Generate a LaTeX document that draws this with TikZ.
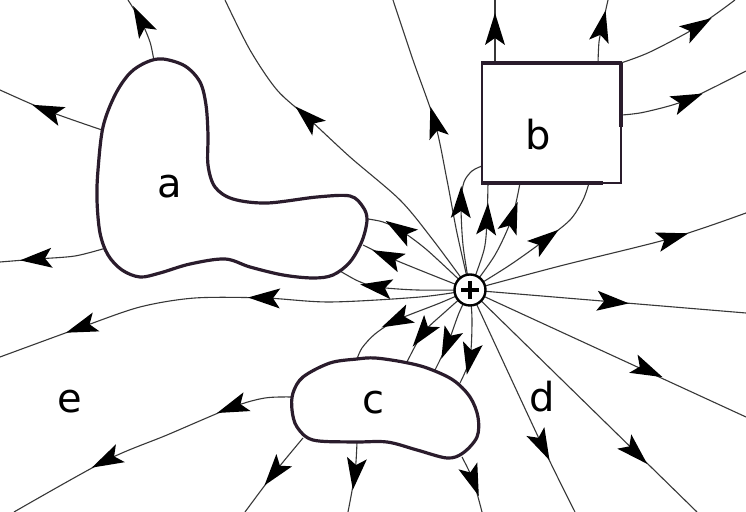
\documentclass[tikz,border=0pt]{standalone}
\usepackage{fontspec}
\setmainfont{DejaVu Sans}
\usetikzlibrary{calc}
\definecolor{cond}{RGB}{42,28,44}
\definecolor{fline}{RGB}{55,55,55}
\tikzset{
  fl/.style={draw=fline,line width=0.55pt},
  condline/.style={draw=cond,line width=1.6pt,fill=white},
  headfill/.style={fill=black},
  lbl/.style={font=\fontsize{20}{24}\selectfont,inner sep=0pt}
}
% arrowhead centred on #2, pointing along (#3)-(#1)
\newcommand\fa[3]{%
  \coordinate (fdA) at (#2);
  \coordinate (fdD) at ($(#2)+(#3)-(#1)$);
  \coordinate (fdT) at ($(fdA)!8.5pt!(fdD)$);
  \coordinate (fdB) at ($(fdA)!-7.5pt!(fdD)$);
  \coordinate (fdI) at ($(fdA)!-4pt!(fdD)$);
  \coordinate (fdC) at ($(fdB)!5pt!90:(fdT)$);
  \coordinate (fdE) at ($(fdB)!5pt!-90:(fdT)$);
  \fill[headfill] (fdT) -- (fdC) -- (fdI) -- (fdE) -- cycle;}
\begin{document}
\begin{tikzpicture}[x=0.5pt,y=-0.5pt]
\useasboundingbox (0,0) rectangle (746,512);
\fill[white] (0,0) rectangle (746,512);
\coordinate (qc) at (470,290);

% ---------- field lines from the charge ----------
% towards a
\draw[fl] plot[smooth] coordinates {(qc) (427,250) (400,230) (383,222) (368,219)};
\fa{427,250}{400,230}{383,222}
\draw[fl] plot[smooth] coordinates {(qc) (427,273) (388,257) (363,245)};
\fa{427,273}{388,257}{363,245}
\draw[fl] plot[smooth] coordinates {(qc) (417,290) (377,287) (358,281) (340,271)};
\fa{417,290}{377,287}{358,281}
% long line to the left
\draw[fl] plot[smooth] coordinates {(qc) (420,297) (330,302) (265,298) (195,298) (140,307) (82,327) (0,357)};
\fa{330,302}{265,298}{195,298}
\fa{140,307}{82,327}{0,357}
% upper left lines
\draw[fl] plot[smooth] coordinates {(qc) (433,240) (400,200) (350,157) (308,118) (277,90) (250,50) (225,0)};
\fa{350,157}{308,118}{277,90}
\draw[fl] plot[smooth] coordinates {(qc) (457,233) (447,180) (435,123) (413,60) (393,0)};
\fa{447,180}{435,123}{413,60}
% towards b
\draw[fl] plot[smooth] coordinates {(qc) (463,245) (461,203) (464,182) (472,171) (482,166)};
\fa{463,245}{461,203}{464,182}
\draw[fl] plot[smooth] coordinates {(qc) (484,250) (487,220) (488,183)};
\fa{484,250}{487,220}{488,183}
\draw[fl] plot[smooth] coordinates {(qc) (495,255) (512,218) (520,183)};
\fa{495,255}{512,218}{520,183}
\draw[fl] plot[smooth] coordinates {(qc) (510,265) (545,240) (570,220) (583,200) (589,183)};
\fa{510,265}{545,240}{570,220}
% to the right
\draw[fl] plot[smooth] coordinates {(qc) (560,266) (672,238) (746,213)};
\fa{560,266}{672,238}{746,213}
\draw[fl] (qc) -- (746,313);
\fa{470,290}{612,302}{746,313}
\draw[fl] (qc) -- (746,417);
\fa{470,290}{647,370}{746,417}
\draw[fl] (qc) -- (697,512);
\fa{470,290}{635,452}{697,512}
\draw[fl] plot[smooth] coordinates {(qc) (542,445) (575,512)};
\fa{500,360}{542,445}{575,512}
% towards c
\draw[fl] plot[smooth] coordinates {(qc) (440,303) (397,320) (375,334) (362,348) (357,359)};
\fa{440,303}{397,320}{375,334}
\draw[fl] plot[smooth] coordinates {(qc) (445,312) (423,333) (407,362)};
\fa{445,312}{423,333}{407,362}
\draw[fl] plot[smooth] coordinates {(qc) (459,313) (448,343) (435,370)};
\fa{459,313}{448,343}{435,370}
\draw[fl] plot[smooth] coordinates {(qc) (472,320) (470,358) (460,383)};
\fa{472,320}{470,358}{460,383}

% ---------- field lines leaving a ----------
\draw[fl] plot[smooth] coordinates {(154,61) (150,42) (141,21) (128,0)};
\fa{150,42}{141,21}{128,0}
\draw[fl] plot[smooth] coordinates {(102,130) (48,111) (0,90)};
\fa{102,130}{48,111}{0,90}
\draw[fl] plot[smooth] coordinates {(106,248) (75,256) (37,259) (0,262)};
\fa{75,256}{37,259}{0,262}

% ---------- field lines leaving b ----------
\draw[fl] (495,63) -- (495,0);
\fa{495,63}{495,30}{495,0}
\draw[fl] plot[smooth] coordinates {(598,63) (599,42) (602,27) (608,0)};
\fa{599,42}{602,27}{608,0}
\draw[fl] plot[smooth] coordinates {(621,63) (650,52) (697,27) (735,0)};
\fa{650,52}{697,27}{735,0}
\draw[fl] plot[smooth] coordinates {(622,115) (645,112) (687,100) (746,71)};
\fa{645,112}{687,100}{746,71}

% ---------- field lines leaving c ----------
\draw[fl] plot[smooth] coordinates {(292,397) (265,398) (233,407) (167,435) (107,460) (14,512)};
\fa{265,398}{233,407}{167,435}
\fa{167,435}{107,460}{14,512}
\draw[fl] plot[smooth] coordinates {(303,438) (275,472) (245,512)};
\fa{303,438}{275,472}{245,512}
\draw[fl] plot[smooth] coordinates {(357,442) (355,473) (348,512)};
\fa{357,442}{355,473}{348,512}
\draw[fl] plot[smooth] coordinates {(462,457) (473,480) (482,512)};
\fa{462,457}{473,480}{482,512}

% ---------- conductors ----------
\draw[condline] plot[smooth cycle, tension=0.55] coordinates {
  (225,259) (190,264) (160,273) (140,277) (122,270) (108,255) (100,233) (97,200)
  (98,170) (103,127) (115,95) (130,73) (147,62) (163,59) (185,66) (200,82)
  (206,105) (208,135) (208,165) (215,187) (233,199) (267,203) (317,197) (350,196)
  (363,207) (367,220) (362,241) (350,262) (333,275) (313,278) (283,275) (250,267)};
\draw[cond,line width=1.1pt,fill=white] (482,63) rectangle (621,183);
\draw[cond,line width=1.9pt] (481,63) -- (622,63);
\draw[cond,line width=1.9pt] (481,183) -- (603,183);
\draw[cond,line width=1.9pt] (621,63) -- (621,127);
\draw[condline] plot[smooth cycle, tension=0.55] coordinates {
  (357,359) (330,363) (303,377) (293,393) (292,410) (297,427) (313,440) (353,442)
  (387,442) (417,450) (447,458) (463,453) (477,437) (478,417) (470,397) (453,380)
  (427,368) (403,362) (375,358)};

% ---------- charge ----------
\node[circle,draw=black,line width=1.2pt,fill=white,minimum size=15.5pt,inner sep=0pt] (q) at (qc) {};
\draw[line width=1.6pt] ($(q.center)+(-9,0)$) -- ($(q.center)+(9,0)$);
\draw[line width=1.6pt] ($(q.center)+(0,-9)$) -- ($(q.center)+(0,9)$);

% ---------- labels ----------
\node[lbl] (la) at (170,187) {a};
\node[lbl] (lb) at (538,135) {b};
\node[lbl] (lc) at (373,403) {c};
\node[lbl] (ld) at (542,397) {d};
\node[lbl] (le) at (70,402) {e};
\end{tikzpicture}
\end{document}
